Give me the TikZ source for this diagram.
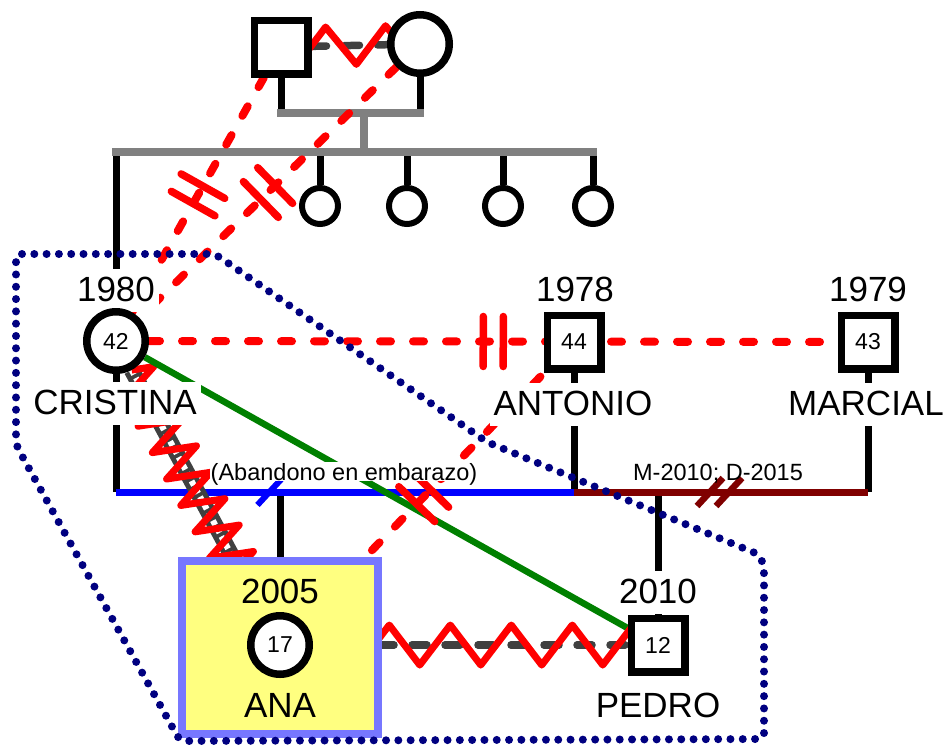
\documentclass[tikz,border=0pt]{standalone}
\usepackage{fontspec}
\setmainfont{Liberation Sans}
\usetikzlibrary{decorations.pathmorphing,decorations.markings,calc}
\pgfdeclarelayer{bg}
\pgfdeclarelayer{mid}
\pgfdeclarelayer{fg}
\pgfsetlayers{bg,mid,main,fg}
\definecolor{navyc}{HTML}{000080}
\definecolor{darkredc}{HTML}{800000}
\definecolor{greenc}{HTML}{008000}
\definecolor{grayc}{HTML}{808080}
\definecolor{dgray}{HTML}{404040}
\definecolor{boxfill}{HTML}{FFFF80}
\definecolor{boxdraw}{HTML}{7777FF}
\newcommand\gbigfont{\fontsize{35pt}{40pt}\selectfont}
\newcommand\gagefont{\fontsize{23pt}{26pt}\selectfont}
\newcommand\gsmallfont{\fontsize{23.5pt}{27pt}\selectfont}
\tikzset{
  malenode/.style={rectangle, draw=black, fill=white, line width=7.5pt, minimum size=53.5pt, inner sep=0pt, font=\gagefont},
  femalenode/.style={circle, draw=black, fill=white, line width=7.5pt, minimum size=58.5pt, inner sep=0pt, font=\gagefont},
  sisternode/.style={circle, draw=black, fill=white, line width=6pt, minimum size=36pt, inner sep=0pt},
  stemline/.style={draw=black, line width=7pt},
  graybar/.style={draw=grayc, line width=7.5pt, line cap=rect},
  biglabel/.style={anchor=base, font=\gbigfont, inner sep=4pt, text height=28pt, text depth=7pt},
  whitebg/.style={fill=white},
  smalllabel/.style={anchor=base, font=\gsmallfont, inner sep=1pt, text depth=0pt},
  reddash/.style={draw=red, line width=8pt, line cap=round, dash pattern=on 11pt off 22pt},
  graydash/.style={draw=dgray, line width=7.5pt, line cap=round, dash pattern=on 15pt off 18pt},
  zigparents/.style={draw=red, line width=7pt, line join=round, decorate, decoration={zigzag, segment length=60pt, amplitude=-19pt}},
  zigana/.style={draw=red, line width=7pt, line join=round, decorate, decoration={zigzag, segment length=61pt, amplitude=20pt}},
  zigladder/.style={draw=red, line width=7pt, line join=round, decorate, decoration={zigzag, segment length=30pt, amplitude=21pt}},
  ladderouter/.style={draw=dgray, line width=16pt},
  ladderinner/.style={draw=white, line width=6pt, dash pattern=on 5pt off 4pt},
  cutmark/.style={postaction={decorate, decoration={markings, mark=at position 0.5 with {\draw[red, solid, line width=7.5pt, line cap=round] (-10pt,-25pt) -- (-10pt,25pt) (10pt,-25pt) -- (10pt,25pt);}}}},
  sepmark/.style={postaction={decorate, decoration={markings, mark=at position #1 with {\draw[blue, solid, line width=6pt] (-12pt,-13pt) -- (12pt,13pt);}}}},
  divmark/.style={postaction={decorate, decoration={markings, mark=at position #1 with {\draw[darkredc, solid, line width=6.5pt] (-24pt,-14pt) -- (2pt,14pt) (-5pt,-14pt) -- (21pt,14pt);}}}},
  bluecouple/.style={draw=blue, line width=7pt},
  redcouple/.style={draw=darkredc, line width=7pt},
  greenline/.style={draw=greenc, line width=6.5pt},
  anabox/.style={rectangle, draw=boxdraw, fill=boxfill, line width=8pt, minimum width=196pt, minimum height=173pt},
  groupline/.style={draw=navyc, line width=8pt, line cap=round, dash pattern=on 0pt off 12.3pt, rounded corners=6pt}
}
\begin{document}
\begin{tikzpicture}[x=1pt, y=-1pt]
\useasboundingbox (0,0) rectangle (949,747);
% persons
\node[malenode] (father) at (281,47) {};
\node[femalenode] (mother) at (420,44) {};
\node[sisternode] (d1) at (320,206) {};
\node[sisternode] (d2) at (407,206) {};
\node[sisternode] (d3) at (503,206) {};
\node[sisternode] (d4) at (593,206) {};
\node[femalenode] (cristina) at (116,341) {42};
\node[malenode] (antonio) at (574,342) {44};
\node[malenode] (marcial) at (868,342) {43};
\node[femalenode] (ana) at (280,645) {17};
\node[malenode] (pedro) at (658,645) {12};
% junctions
\coordinate (pb1) at (281,113);
\coordinate (pb2) at (420,113);
\coordinate (pmid) at (364,113);
\coordinate (sbL) at (116,152);
\coordinate (sbR) at (593,152);
\coordinate (cu1) at (116,492);
\coordinate (cu2) at (antonio |- cu1);
\coordinate (cu3) at (marcial |- cu1);
\coordinate (cu4) at (ana |- cu1);
\coordinate (cu5) at (pedro |- cu1);
\begin{pgfonlayer}{bg}
  % family structure
  \draw[stemline] (father) -- (pb1);
  \draw[stemline] (mother) -- (pb2);
  \draw[stemline] (sbL) -- (cristina);
  \foreach \d in {d1,d2,d3,d4} \draw[stemline] (\d) -- (\d |- sbL);
  \draw[graybar] (pb1) -- (pb2);
  \draw[graybar] (pmid) -- (pmid |- sbL);
  \draw[graybar] (sbL) -- (sbR);
  % couples
  \draw[stemline] (cristina) -- (cu1);
  \draw[stemline] (antonio) -- (cu2);
  \draw[stemline] (marcial) -- (cu3);
  \draw[stemline] (cu4) -- (ana);
  \draw[stemline] (cu5) -- (pedro);
  \draw[bluecouple, sepmark=0.335] (cu1) -- (cu2);
  \draw[redcouple, divmark=0.5] (cu2) -- (cu3);
  % relationships
  \draw[graydash] (father) -- (mother);
  \draw[zigparents] (father.center) -- (mother.center);
  \draw[ladderouter] (cristina) -- (ana);
  \draw[ladderinner] (cristina) -- (ana);
  \draw[zigladder] (cristina) -- (ana);
  \draw[greenline] (cristina) -- (pedro);
  \draw[reddash, cutmark] (cristina) -- (marcial);
  \draw[reddash, cutmark] (father) -- (cristina);
  \draw[reddash, cutmark] (mother) -- (cristina);
  \draw[reddash, cutmark] (ana) -- (antonio);
  \draw[graydash] (ana) -- (pedro);
  \draw[zigana] (ana) -- (pedro.center);
\end{pgfonlayer}
\begin{pgfonlayer}{mid}
  \node[biglabel, whitebg] (lc1) at (116,301) {1980};
  \node[biglabel, whitebg] (lc2) at (115,414) {CRISTINA};
  \node[biglabel, whitebg] (la1) at (575,301) {1978};
  \node[biglabel, whitebg] (la2) at (573,415) {ANTONIO};
  \node[biglabel, whitebg] (lm1) at (868,301) {1979};
  \node[biglabel, whitebg] (lm2) at (866,415) {MARCIAL};
  \node[biglabel, whitebg] (lp1) at (658,603) {2010};
  \node[biglabel, whitebg] (lp2) at (658,717) {PEDRO};
  \node[smalllabel, whitebg] (lab1) at (344,480) {(Abandono en embarazo)};
  \node[smalllabel] (lab2) at (718,480) {M-2010; D-2015};
  \node[anabox] (box) at (280,647.5) {};
  \node[biglabel] (ln1) at (280,603) {2005};
  \node[biglabel] (ln2) at (280,717) {ANA};
\end{pgfonlayer}
\begin{pgfonlayer}{fg}
  \draw[groupline] (16,254) -- (215,254) -- (487,442) -- (760,555) -- (764,568) -- (764,739) -- (180,741) -- (16,445) -- cycle;
\end{pgfonlayer}
\end{tikzpicture}
\end{document}
